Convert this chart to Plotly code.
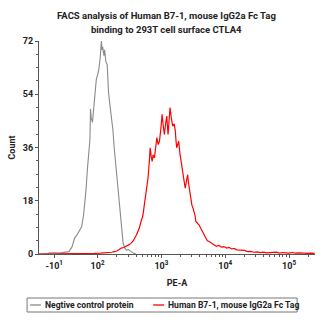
import math
import plotly.graph_objects as go

# ---------------- data (x in display decades: 2 -> 10^2, 3 -> 10^3 ...) ----------------
neg_x = [1.08, 1.20, 1.25, 1.30, 1.35, 1.40, 1.45, 1.50, 1.55, 1.60,
         1.64, 1.67, 1.70, 1.73, 1.75, 1.78, 1.80, 1.82, 1.84, 1.86,
         1.88, 1.89, 1.90, 1.92, 1.94, 1.95, 1.97, 1.98, 2.00, 2.02,
         2.04, 2.06, 2.07, 2.08, 2.10, 2.11, 2.13, 2.15, 2.16, 2.17,
         2.19, 2.22, 2.24, 2.26, 2.28, 2.30, 2.33, 2.36, 2.38, 2.40,
         2.42, 2.45, 2.48, 2.52, 2.56, 2.60]
neg_y = [0, 0, 0.4, 0.5, 0.4, 0.3, 0.4, 0.5, 0.8, 2.4,
         5.4, 6.2, 7.5, 8.5, 9.2, 13, 17, 22, 28.5, 34,
         38.7, 49, 46, 44.5, 50, 53, 57, 59, 60.5, 62.5,
         66, 72, 69, 70, 67, 69, 65, 64, 60, 55,
         51, 46.5, 42, 36, 31, 26, 20, 12.5, 7.5, 3.7,
         2.2, 1.3, 1.5, 0.8, 0.3, 0]

pos_x = [1.08, 1.5, 1.8, 1.95, 2.05, 2.15, 2.22, 2.26, 2.30, 2.34,
         2.37, 2.41, 2.45, 2.48, 2.52, 2.56, 2.61, 2.65, 2.68, 2.71,
         2.74, 2.76, 2.79, 2.81, 2.824, 2.84, 2.855, 2.87, 2.891, 2.91,
         2.928, 2.95, 2.969, 2.99, 3.011, 3.03, 3.047, 3.065, 3.084, 3.095,
         3.104, 3.12, 3.135, 3.155, 3.177, 3.20, 3.218, 3.23, 3.240, 3.255,
         3.271, 3.29, 3.306, 3.325, 3.342, 3.36, 3.373, 3.39, 3.411, 3.425,
         3.435, 3.455, 3.477, 3.495, 3.513, 3.527, 3.540, 3.565, 3.591, 3.62,
         3.644, 3.67, 3.695, 3.72, 3.747, 3.785, 3.824, 3.86, 3.90, 3.94,
         3.98, 4.02, 4.06, 4.10, 4.14, 4.18, 4.22, 4.26, 4.30, 4.35,
         4.40, 4.45, 4.50, 4.55, 4.60, 4.65, 4.70, 4.75, 4.80, 4.85,
         4.90, 4.95, 5.00, 5.05, 5.10, 5.15, 5.20, 5.25, 5.30, 5.35, 5.40]
pos_y = [0, 0, 0, 0.2, 0.3, 0.4, 0.6, 0.8, 1.0, 1.5,
         2.0, 2.2, 2.8, 3.0, 3.5, 4.5, 6.5, 8.5, 10.9, 13,
         17.8, 21, 25.7, 31, 35.9, 33, 31.3, 33.5, 32.5, 36,
         39.3, 37, 38.1, 42, 47.2, 43, 40.4, 44, 46.6, 43,
         40.4, 45, 49.5, 46, 43.2, 44, 41.5, 38, 35.9, 37,
         38.1, 34, 31.3, 29, 26.8, 24, 22.3, 24, 26.8, 24,
         22.3, 19, 16.6, 15.5, 14.4, 13, 11, 10.5, 9.8, 8.5,
         7.6, 6.5, 5.3, 4.5, 4.2, 3.5, 3.1, 2.6, 2.9, 2.3,
         2.5, 2.0, 2.2, 1.7, 1.9, 1.4, 1.3, 1.1, 1.2, 0.8,
         0.9, 0.6, 0.7, 0.5, 0.6, 0.4, 0.5, 0.4, 0.6, 0.3,
         0.5, 0.4, 0.3, 0.5, 0.3, 0.4, 0.3, 0.4, 0.2, 0.3, 0.2]
assert len(neg_x) == len(neg_y) and len(pos_x) == len(pos_y)

x_tickvals = [1.32, 2, 3, 4, 5]
x_ticktext = ["-10<sup>1</sup>", "10<sup>2</sup>", "10<sup>3</sup>", "10<sup>4</sup>", "10<sup>5</sup>"]
y_tickvals = [0, 18, 36, 54, 72]

series_names = ["Negtive control protein", "Human B7-1, mouse IgG2a Fc Tag"]
series_colors = ["#8a8a8a", "#ff0000"]
title_lines = ["FACS analysis of Human B7-1, mouse IgG2a Fc Tag",
               "binding to 293T cell surface CTLA4"]

# ---------------- layout geometry ----------------
W, H = 331, 325
L, R, T, B = 37, 315, 41, 254
X_RANGE = [1.0824, 5.406]
FONT = "Roboto"
TXT = "#222222"

def px(xp):
    return (xp - L) / (R - L)

def py(yp):
    return (B - yp) / (B - T)

minor_x = [d + math.log10(k) for d in range(2, 6) for k in range(2, 10)
           if d + math.log10(k) < X_RANGE[1]]

fig = go.Figure()
fig.add_trace(go.Scatter(x=neg_x, y=neg_y, mode="lines", name=series_names[0],
                         line=dict(color=series_colors[0], width=1.1), showlegend=False))
fig.add_trace(go.Scatter(x=pos_x, y=pos_y, mode="lines", name=series_names[1],
                         line=dict(color=series_colors[1], width=1.2), showlegend=False))

fig.update_layout(
    width=W, height=H,
    margin=dict(l=L, r=W - R, t=T, b=H - B, pad=0),
    paper_bgcolor="white", plot_bgcolor="white",
    font=dict(family=FONT, size=9, color=TXT),
    xaxis=dict(range=X_RANGE, showgrid=False, zeroline=False,
               showline=True, linecolor="#555555", linewidth=1,
               ticks="outside", ticklen=3, tickcolor="#555555",
               tickvals=x_tickvals, ticktext=x_ticktext,
               tickfont=dict(family=FONT, size=9, color=TXT, weight="bold"),
               minor=dict(tickvals=minor_x, ticks="outside", ticklen=2, tickcolor="#555555"),
               title=dict(text="<b>PE-A</b>", standoff=9, font=dict(family=FONT, size=9, color=TXT)),
               fixedrange=True),
    yaxis=dict(range=[0, 72], showgrid=False, zeroline=False,
               showline=True, linecolor="#555555", linewidth=1,
               ticks="outside", ticklen=3, tickcolor="#555555",
               tickvals=y_tickvals,
               tickfont=dict(family=FONT, size=9, color=TXT, weight="bold"),
               minor=dict(dtick=4.5, ticks="outside", ticklen=2, tickcolor="#555555"),
               title=dict(text="<b>Count</b>", standoff=5, font=dict(family=FONT, size=9, color=TXT)),
               fixedrange=True),
)

# ---------------- title (two centred lines) ----------------
for yc, line in zip([15, 29], title_lines):
    fig.add_annotation(x=px(165.5), y=py(yc), xref="paper", yref="paper",
                       text="<b>" + line + "</b>", showarrow=False,
                       xanchor="center", yanchor="middle",
                       font=dict(family=FONT, size=9.5, color=TXT))

# ---------------- manual legend (compact, boxed) ----------------
box = dict(x0=25, x1=297, y0=298, y1=312)
fig.add_shape(type="rect", xref="paper", yref="paper",
              x0=px(box["x0"]), x1=px(box["x1"]), y0=py(box["y1"]), y1=py(box["y0"]),
              line=dict(color="#777777", width=1), fillcolor="white")
legend_items = [(28, 39, 41), (152, 163, 165)]
for (lx0, lx1, tx), name, col in zip(legend_items, series_names, series_colors):
    fig.add_shape(type="line", xref="paper", yref="paper",
                  x0=px(lx0), x1=px(lx1), y0=py(305), y1=py(305),
                  line=dict(color=col, width=1.3))
    fig.add_annotation(x=px(tx), y=py(305), xref="paper", yref="paper",
                       text="<b>" + name + "</b>", showarrow=False,
                       xanchor="left", yanchor="middle",
                       font=dict(family=FONT, size=8.6, color=TXT))

fig.write_html("out.html")
